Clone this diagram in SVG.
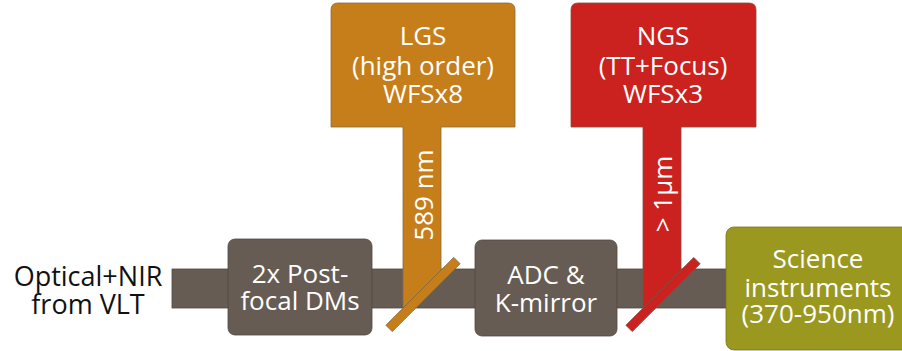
<svg xmlns="http://www.w3.org/2000/svg" width="902" height="351" viewBox="0 0 902 351">
<style>
text{font-family:"Open Sans","Noto Sans","DejaVu Sans",sans-serif;font-size:26px;text-anchor:middle}
.w{fill:#ffffff}
.k{fill:#111111}
.gray{fill:#675c53;stroke:#4f4740;stroke-width:0.8}
.org{fill:#c57e19;stroke:#8a6a40;stroke-width:0.8}
.red{fill:#cc221f;stroke:#8a4a40;stroke-width:0.8}
.olv{fill:#9a981f;stroke:#77761a;stroke-width:0.8}
</style>
<rect width="902" height="351" fill="#ffffff"/>
<g id="connectors">
  <rect id="beam" class="gray" x="172" y="269" width="560" height="39"/>
</g>
<g id="input">
  <text class="k" style="font-size:27px" x="88" y="286">Optical+NIR<tspan x="88" dy="28">from VLT</tspan></text>
</g>
<g id="dms">
  <rect class="gray" x="228" y="239" width="144" height="96" rx="7"/>
  <text class="w" x="300" y="283">2x Post-<tspan x="300" dy="27">focal DMs</tspan></text>
</g>
<g id="adc">
  <rect class="gray" x="475" y="240" width="142" height="96" rx="7"/>
  <text class="w" x="546" y="284">ADC &amp;<tspan x="546" dy="28">K-mirror</tspan></text>
</g>
<g id="lgs">
  <path class="org" d="M331,10 Q331,3 338,3 H508 Q515,3 515,10 V127 H441 V270 L403,308 V127 H331 Z"/>
  <text class="w" x="423" y="45">LGS<tspan x="423" dy="30">(high order)</tspan><tspan x="423" dy="28">WFSx8</tspan></text>
  <text class="w" transform="translate(433,195) rotate(-90)">589 nm</text>
  <rect class="org" x="-48" y="-4.5" width="96" height="9" transform="translate(423,294.5) rotate(-45)"/>
</g>
<g id="ngs">
  <path class="red" d="M571,10 Q571,3 578,3 H749 Q756,3 756,10 V127 H681 V270 L643,308 V127 H571 Z"/>
  <text class="w" x="663" y="45">NGS<tspan x="663" dy="30">(TT+Focus)</tspan><tspan x="663" dy="28">WFSx3</tspan></text>
  <text class="w" transform="translate(672,194) rotate(-90)">&gt; 1µm</text>
  <rect class="red" x="-48" y="-4.5" width="96" height="9" transform="translate(663,294.5) rotate(-45)"/>
</g>
<g id="science">
  <rect class="olv" x="726" y="227" width="190" height="123" rx="8"/>
  <text class="w" x="818" y="268">Science<tspan x="818" dy="29">instruments</tspan><tspan x="818" dy="26">(370-950nm)</tspan></text>
</g>
</svg>
